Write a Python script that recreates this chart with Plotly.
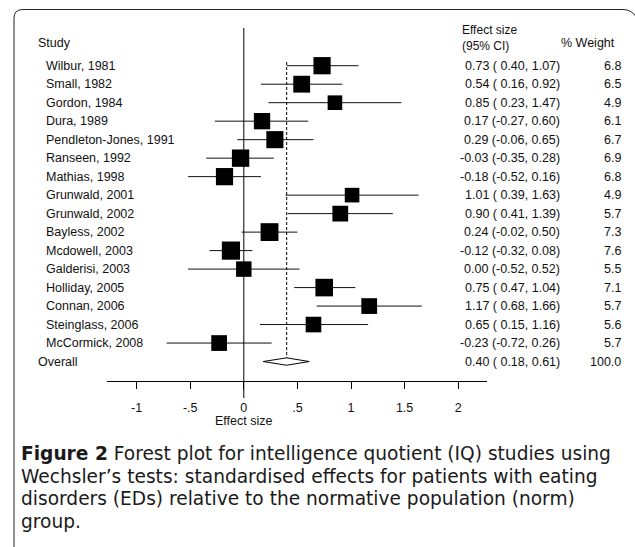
import math
import plotly.graph_objects as go

# ---- data ----
studies = ["Wilbur, 1981", "Small, 1982", "Gordon, 1984", "Dura, 1989",
           "Pendleton-Jones, 1991", "Ranseen, 1992", "Mathias, 1998",
           "Grunwald, 2001", "Grunwald, 2002", "Bayless, 2002", "Mcdowell, 2003",
           "Galderisi, 2003", "Holliday, 2005", "Connan, 2006", "Steinglass, 2006",
           "McCormick, 2008"]
effect = [0.73, 0.54, 0.85, 0.17, 0.29, -0.03, -0.18, 1.01, 0.90, 0.24, -0.12,
          0.00, 0.75, 1.17, 0.65, -0.23]
ci_low = [0.40, 0.16, 0.23, -0.27, -0.06, -0.35, -0.52, 0.39, 0.41, -0.02, -0.32,
          -0.52, 0.47, 0.68, 0.15, -0.72]
ci_high = [1.07, 0.92, 1.47, 0.60, 0.65, 0.28, 0.16, 1.63, 1.39, 0.50, 0.08,
           0.52, 1.04, 1.66, 1.16, 0.26]
weight = [6.8, 6.5, 4.9, 6.1, 6.7, 6.9, 6.8, 4.9, 5.7, 7.3, 7.6, 5.5, 7.1, 5.7, 5.6, 5.7]
overall_label = "Overall"
overall = [0.40, 0.18, 0.61, 100.0]   # effect, low, high, weight
tick_vals = [-1, -0.5, 0, 0.5, 1, 1.5, 2]
tick_text = ["-1", "-.5", "0", ".5", "1", "1.5", "2"]
caption = ["<b>Figure 2</b> Forest plot for intelligence quotient (IQ) studies using",
           "Wechsler\u2019s tests: standardised effects for patients with eating",
           "disorders (EDs) relative to the normative population (norm)",
           "group."]

# ---- layout helpers (pixel geometry) ----
W, H = 635, 547
ROW0, ROWH = 65.7, 18.49          # pixel y of first row and row spacing
X0PX, UNIT = 243.8, 107.2         # pixel x of 0 and pixels per unit
AX_L, AX_R, AX_Y, TOP = 107, 487, 381, 28


def px(x):
    return x / W


def py(y):
    return 1 - y / H


def row_at(p):
    return (p - ROW0) / ROWH


FONT = "Liberation Sans, Arial, Helvetica, sans-serif"
FS = 12.5
TXT = "#111111"

fig = go.Figure()
n = len(studies)
rows = list(range(n))

# CI lines
lx, ly = [], []
for i in rows:
    lx += [ci_low[i], ci_high[i], None]
    ly += [i, i, None]
fig.add_trace(go.Scatter(x=lx, y=ly, mode="lines", line=dict(color="#111111", width=1),
                         hoverinfo="skip", showlegend=False))
# squares
fig.add_trace(go.Scatter(x=effect, y=rows, mode="markers",
                         marker=dict(symbol="square", color="black", opacity=1,
                                     size=[6.6 * math.sqrt(w) for w in weight],
                                     line=dict(width=0)),
                         showlegend=False))
# overall diamond
r_ov = n
dh = 3.7 / ROWH
fig.add_trace(go.Scatter(x=[overall[1], overall[0], overall[2], overall[0], overall[1]],
                         y=[r_ov, r_ov - dh, r_ov, r_ov + dh, r_ov],
                         mode="lines", fill="toself", fillcolor="white",
                         line=dict(color="black", width=1), showlegend=False))

shapes = []
# zero line (extends slightly below axis)
shapes.append(dict(type="line", xref="x", yref="paper", x0=0, x1=0,
                   y0=py(398), y1=py(TOP), line=dict(color="black", width=1)))
# dashed overall line
shapes.append(dict(type="line", xref="x", yref="y", x0=overall[0], x1=overall[0],
                   y0=row_at(62), y1=r_ov - dh, line=dict(color="black", width=1, dash="3px,2px")))
# rounded frame
path = (f"M {px(14)},{py(560)} L {px(14)},{py(18)} Q {px(14)},{py(9.5)} {px(23)},{py(9.5)} "
        f"L {px(623)},{py(9.5)} Q {px(633)},{py(9.5)} {px(638)},{py(20)}")
shapes.append(dict(type="path", xref="paper", yref="paper", path=path,
                   line=dict(color="#222222", width=1)))

ann = []
def txt(x, y, s, anchor="left", xref="paper", yref="y", size=FS, font=FONT, color=TXT,
        yanchor="middle"):
    ann.append(dict(x=x, y=y, xref=xref, yref=yref, text=s, showarrow=False,
                    xanchor=anchor, yanchor=yanchor, borderpad=0,
                    font=dict(family=font, size=size, color=color)))

txt(px(37), row_at(43), "Study")
txt(px(461), py(37.5), "Effect size", xref="paper", yref="paper", yanchor="bottom", size=12)
txt(px(461), py(37.5), "(95% CI)", xref="paper", yref="paper", yanchor="top", size=12)
txt(px(616), row_at(43), "% Weight", anchor="right")
for i in rows:
    txt(px(45), i, studies[i])
    txt(px(561), i, f"{effect[i]:.2f} ({ci_low[i]:5.2f}, {ci_high[i]:.2f})".replace("  ", " "),
        anchor="right")
    txt(px(622), i, f"{weight[i]:.1f}", anchor="right")
txt(px(37), r_ov, overall_label)
txt(px(561), r_ov, f"{overall[0]:.2f} ({overall[1]:5.2f}, {overall[2]:.2f})", anchor="right")
txt(px(622), r_ov, f"{overall[3]:.1f}", anchor="right")
# axis title
txt(0, py(421), "Effect size", anchor="center", xref="x", yref="paper")
# caption
cap_y = [453, 476, 498.5, 521]
for s, y in zip(caption, cap_y):
    txt(px(20), py(y), s, xref="paper", yref="paper", size=18.6,
        font="DejaVu Sans, sans-serif", color="#1a1a1a")

fig.update_layout(
    width=W, height=H, margin=dict(l=0, r=0, t=0, b=0),
    paper_bgcolor="white", plot_bgcolor="white",
    shapes=shapes, annotations=ann, showlegend=False,
    xaxis=dict(domain=[px(AX_L), px(AX_R)],
               range=[(AX_L - X0PX) / UNIT, (AX_R - X0PX) / UNIT],
               showline=True, linecolor="black", linewidth=1, mirror=False,
               ticks="outside", ticklen=7, tickcolor="black", tickwidth=1,
               ticklabelstandoff=8,
               tickvals=tick_vals, ticktext=tick_text, showgrid=False, zeroline=False,
               tickfont=dict(family=FONT, size=FS, color=TXT), fixedrange=True),
    yaxis=dict(domain=[py(AX_Y), py(TOP)], range=[row_at(AX_Y), row_at(TOP)],
               visible=False, showgrid=False, zeroline=False, fixedrange=True),
)
fig.write_html("out.html", config={"displayModeBar": False},
               post_script="document.body.style.margin='0';")
